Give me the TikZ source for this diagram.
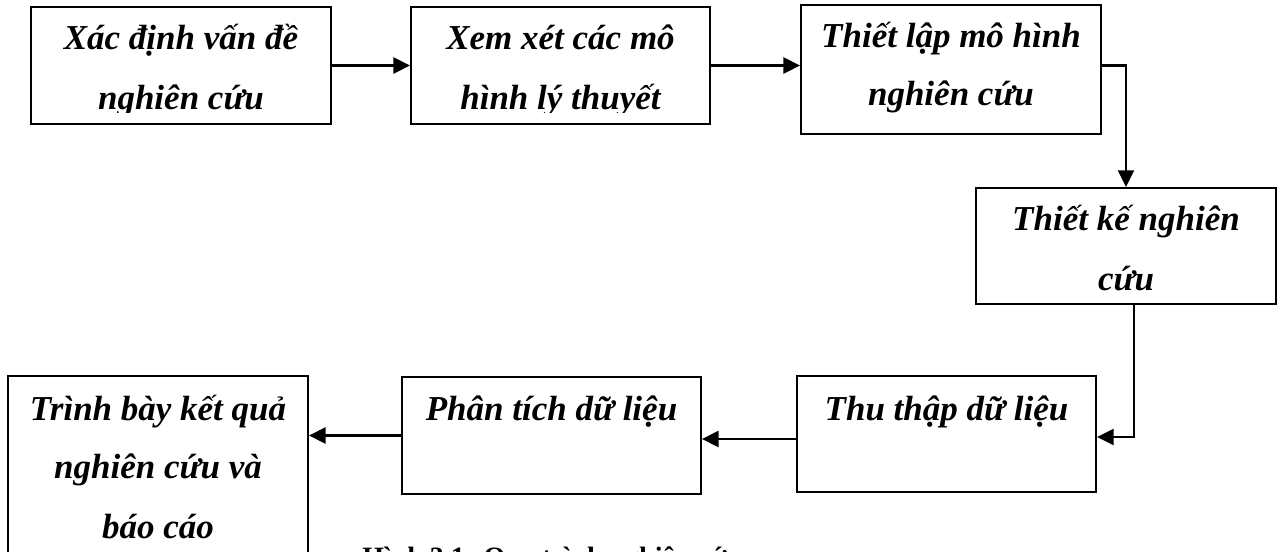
\documentclass[tikz,border=0pt]{standalone}
\usepackage{fontspec}
\setmainfont{Liberation Serif}
\usetikzlibrary{arrows.meta,calc}

\tikzset{
  stagebox/.style={draw, line width=1.5pt, inner sep=0pt, rectangle},
  steptext/.style={anchor=base, inner sep=0pt,
    font=\fontsize{26.25}{30}\selectfont\bfseries\itshape},
  flow/.style={line width=2.2pt, -{Triangle[length=12.5pt,width=12pt]}},
  elbow/.style={line width=1.6pt, -{Triangle[length=12.5pt,width=12pt]}},
  captiontext/.style={anchor=base west, inner sep=0pt,
    font=\fontsize{21}{25}\selectfont\bfseries}
}

\begin{document}
\begin{tikzpicture}[x=0.75pt,y=-0.75pt]
  \fill[white] (0,0) rectangle (1283,551);
  \clip (0,0) rectangle (1283,551);

  % process boxes
  \node[stagebox, minimum width=225pt,   minimum height=87.75pt] (B1) at (181,65.5) {};
  \node[stagebox, minimum width=224.25pt,minimum height=87.75pt] (B2) at (560.5,65.5) {};
  \node[stagebox, minimum width=225pt,   minimum height=96.75pt] (B3) at (951,69.5) {};
  \node[stagebox, minimum width=225pt,   minimum height=87pt]    (B4) at (1126,246) {};
  \node[stagebox, minimum width=224.25pt,minimum height=87pt]    (B5) at (946.5,434) {};
  \node[stagebox, minimum width=224.25pt,minimum height=87.75pt] (B6) at (551.5,435.5) {};
  \node[stagebox, minimum width=225pt,   minimum height=183pt]   (B7) at (158,498) {};

  % labels of the first two boxes are cut at the inner margin
  \begin{scope}
    \clip (20,0) rectangle (720,112);
    \node[steptext] (t1a) at (181,49)  {Xác định vấn đề};
    \node[steptext] (t1b) at (181,109) {nghiên cứu};
    \node[steptext] (t2a) at (560.5,49)  {Xem xét các mô};
    \node[steptext] (t2b) at (560.5,109) {hình lý thuyết};
  \end{scope}

  \node[steptext] (t3a) at (951,47)  {Thiết lập mô hình};
  \node[steptext] (t3b) at (951,105) {nghiên cứu};
  \node[steptext] (t4a) at (1126,230) {Thiết kế nghiên};
  \node[steptext] (t4b) at (1126,290) {cứu};
  \node[steptext] (t5)  at (946.5,420) {Thu thập dữ liệu};
  \node[steptext] (t6)  at (551.5,420) {Phân tích dữ liệu};
  \node[steptext] (t7a) at (158,420) {Trình bày kết quả};
  \node[steptext] (t7b) at (158,478) {nghiên cứu và};
  \node[steptext] (t7c) at (158,538) {báo cáo};

  % connectors
  \coordinate (turn) at (1134,437);
  \coordinate (row56) at (0,439);

  \draw[flow] (B1.east) -- (B1.east -| B2.west);
  \draw[flow] (B2.east) -- (B2.east -| B3.west);
  \draw[elbow] (B3.east |- B2.east) -| (B4.north);
  \draw[elbow] (B4.south -| turn) |- (B5.east |- turn);
  \draw[flow] (B5.west |- row56) -- (B6.east |- row56);
  \draw[flow] (B6.west) -- (B6.west -| B7.east);

  % caption, running off the lower edge
  \node[captiontext] (cap) at (362,566) {Hình 3.1: Quy trình nghiên cứu};
\end{tikzpicture}
\end{document}
